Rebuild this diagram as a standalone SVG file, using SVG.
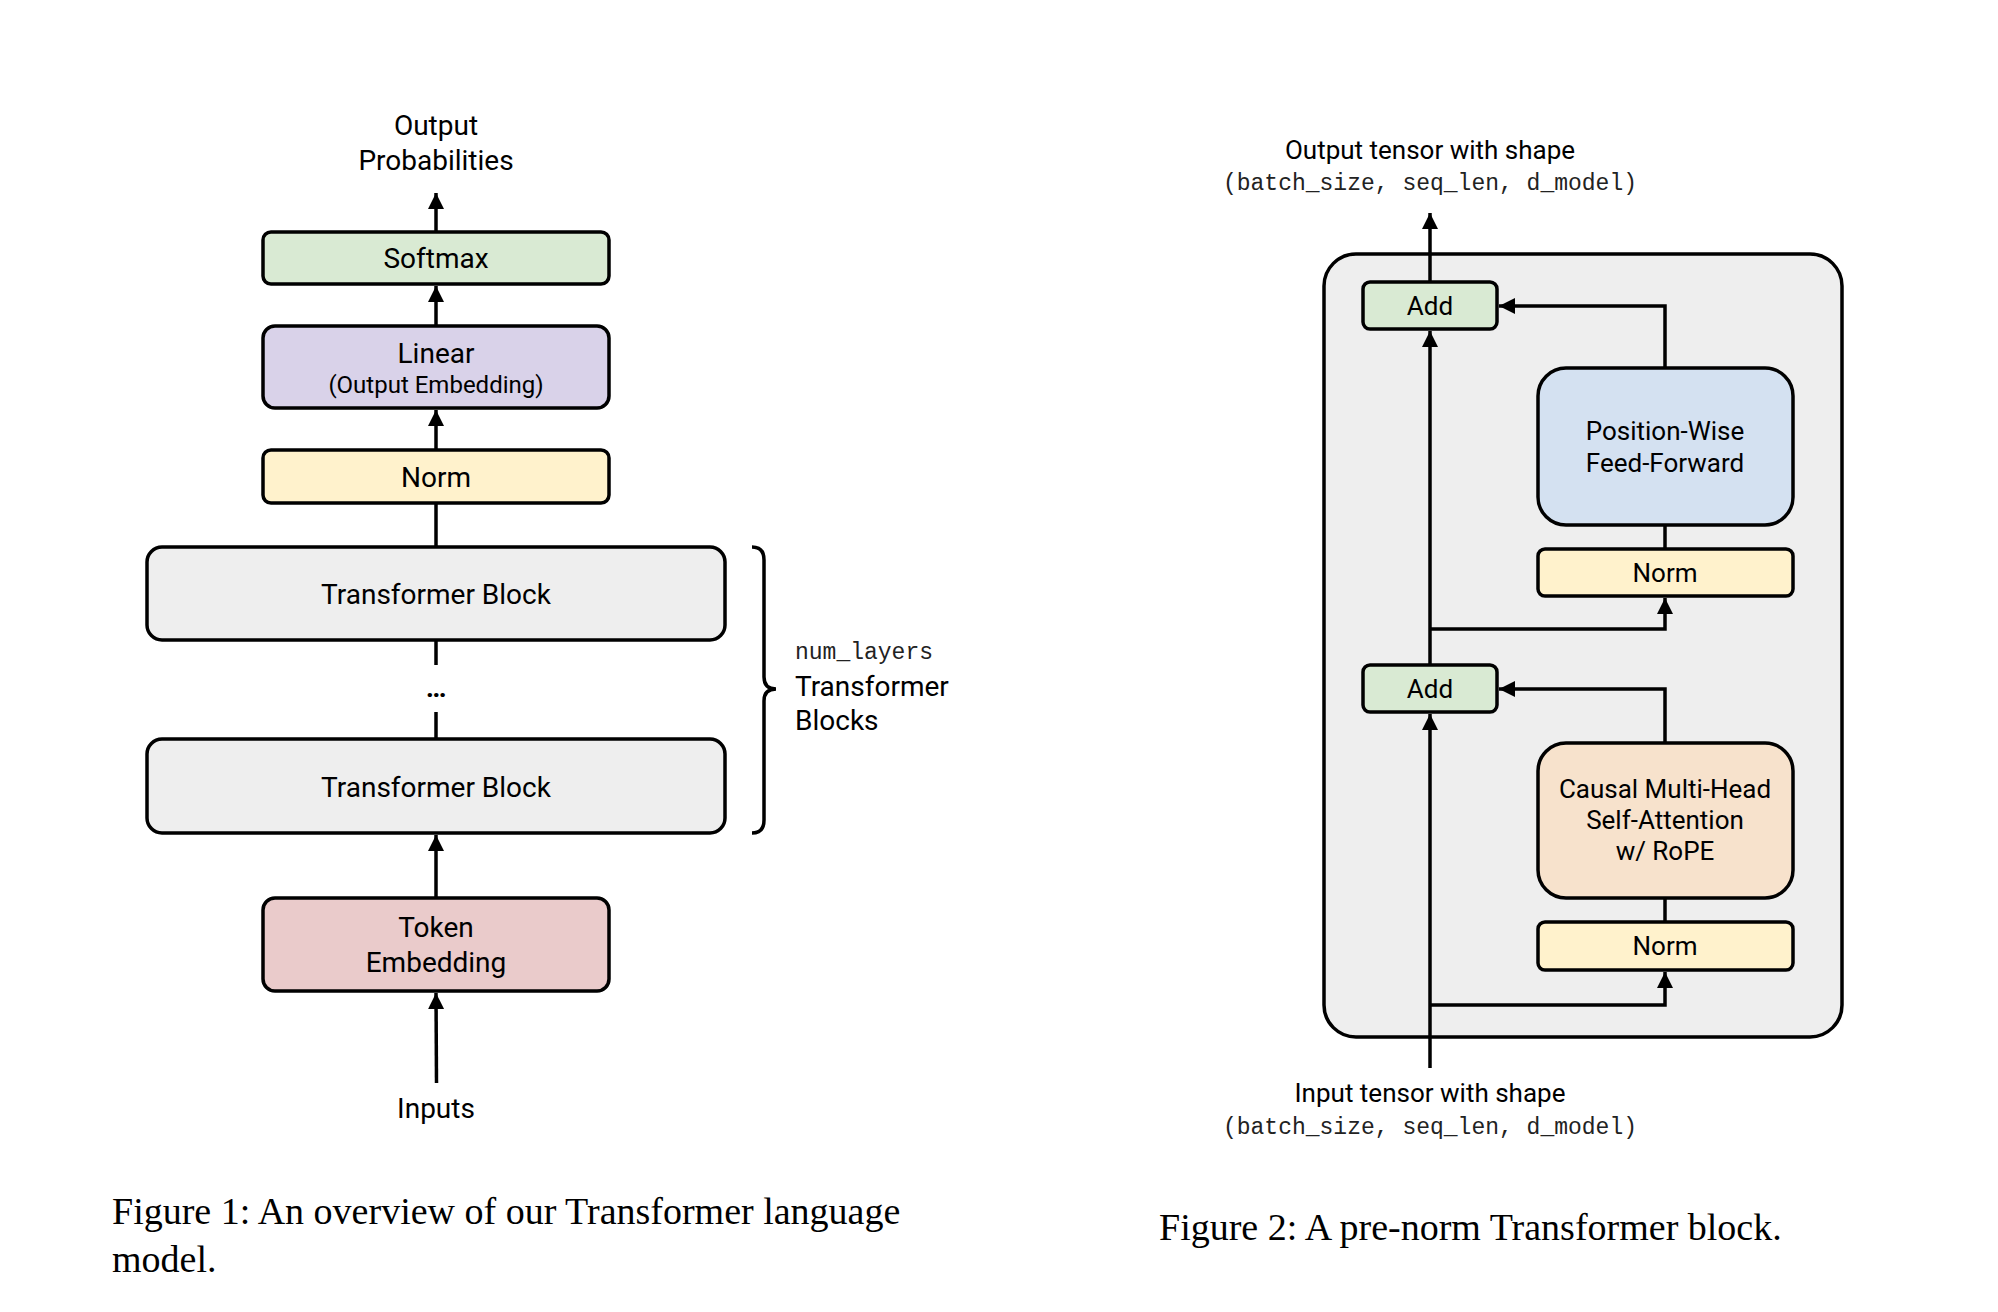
<svg xmlns="http://www.w3.org/2000/svg" width="1998" height="1312" viewBox="0 0 1998 1312">
<defs>
<marker id="ah" markerWidth="10" markerHeight="10" refX="9" refY="5" orient="auto" markerUnits="userSpaceOnUse"><path d="M0,0 L14,5 L0,10 z" transform="scale(0.7,1)" fill="#000"/></marker>
<marker id="a" viewBox="0 0 10 10" markerWidth="16" markerHeight="18" refX="10" refY="5" orient="auto" markerUnits="userSpaceOnUse"><path d="M0,0 L10,5 L0,10 z" fill="#000"/></marker>
</defs>
<style>
.b{stroke:#000;stroke-width:3.5}
.t{font-family:"Roboto","Liberation Sans",sans-serif;font-size:28px;text-anchor:middle;fill:#000}
.s{font-size:24px}
.m{font-family:"Liberation Mono",monospace;font-size:23px;fill:#222}
.c{font-family:"Liberation Serif",serif;font-size:38px;fill:#000}
.l{stroke:#000;stroke-width:3.5;fill:none}
</style>
<rect width="1998" height="1312" fill="#fff"/>
<g id="outer">
<rect x="1324" y="254" width="518" height="783" rx="32" fill="#eeeeee" class="b"/>
</g>
<g id="connectors">
<line x1="436" y1="232" x2="436" y2="193" class="l" marker-end="url(#a)"/>
<line x1="436" y1="326" x2="436" y2="286" class="l" marker-end="url(#a)"/>
<line x1="436" y1="450" x2="436" y2="410" class="l" marker-end="url(#a)"/>
<line x1="436" y1="547" x2="436" y2="503" class="l"/>
<line x1="436" y1="640" x2="436" y2="665" class="l"/>
<line x1="436" y1="712" x2="436" y2="739" class="l"/>
<line x1="436" y1="898" x2="436" y2="835" class="l" marker-end="url(#a)"/>
<line x1="436.5" y1="1083" x2="436" y2="993" class="l" marker-end="url(#a)"/>
<path d="M752,547 Q764,547 764,560 L764,677 Q764,689 776,689 Q764,689 764,701 L764,820 Q764,833 752,833" class="l" stroke-width="3"/>
<line x1="1430" y1="282" x2="1430" y2="213" class="l" marker-end="url(#a)"/>
<line x1="1430" y1="665" x2="1430" y2="331" class="l" marker-end="url(#a)"/>
<line x1="1430" y1="1068" x2="1430" y2="714" class="l" marker-end="url(#a)"/>
<path d="M1665,368 L1665,306 L1499,306" class="l" marker-end="url(#a)"/>
<path d="M1665,743 L1665,689 L1499,689" class="l" marker-end="url(#a)"/>
<line x1="1665" y1="525" x2="1665" y2="549" class="l"/>
<line x1="1665" y1="898" x2="1665" y2="922" class="l"/>
<path d="M1430,629 L1665,629 L1665,598" class="l" marker-end="url(#a)"/>
<path d="M1430,1005 L1665,1005 L1665,972" class="l" marker-end="url(#a)"/>
</g>
<g id="softmax"><rect x="263" y="232" width="346" height="52" rx="8" fill="#d9ead3" class="b"/><text x="436" y="268" class="t">Softmax</text></g>
<g id="linear"><rect x="263" y="326" width="346" height="82" rx="12" fill="#d9d2e9" class="b"/><text x="436" y="363" class="t">Linear</text><text x="436" y="393" class="t s">(Output Embedding)</text></g>
<g id="norm1"><rect x="263" y="450" width="346" height="53" rx="8" fill="#fff2cc" class="b"/><text x="436" y="487" class="t">Norm</text></g>
<g id="tb1"><rect x="147" y="547" width="578" height="93" rx="15" fill="#eeeeee" class="b"/><text x="436" y="604" class="t">Transformer Block</text></g>
<g id="dots"><text x="436" y="697" class="t" font-weight="bold">…</text></g>
<g id="tb2"><rect x="147" y="739" width="578" height="94" rx="15" fill="#eeeeee" class="b"/><text x="436" y="797" class="t">Transformer Block</text></g>
<g id="tok"><rect x="263" y="898" width="346" height="93" rx="12" fill="#eacbcb" class="b"/><text x="436" y="937" class="t">Token</text><text x="436" y="972" class="t">Embedding</text></g>
<g id="labels1">
<text x="436" y="135" class="t">Output</text>
<text x="436" y="170" class="t">Probabilities</text>
<text x="436" y="1118" class="t">Inputs</text>
<text x="795" y="659" class="m">num_layers</text>
<text x="795" y="696" class="t" text-anchor="start" style="text-anchor:start">Transformer</text>
<text x="795" y="730" class="t" style="text-anchor:start">Blocks</text>
<text x="112" y="1224" class="c">Figure 1:  An overview of our Transformer language</text>
<text x="112" y="1272" class="c">model.</text>
</g>
<g id="add2"><rect x="1363" y="282" width="134" height="47" rx="7" fill="#d9ead3" class="b"/><text x="1430" y="315" class="t s" style="font-size:26px">Add</text></g>
<g id="ffn"><rect x="1538" y="368" width="255" height="157" rx="28" fill="#d4e1f1" class="b"/><text x="1665" y="440" class="t s" style="font-size:26px">Position-Wise</text><text x="1665" y="472" class="t s" style="font-size:26px">Feed-Forward</text></g>
<g id="norm3"><rect x="1538" y="549" width="255" height="47" rx="7" fill="#fff2cc" class="b"/><text x="1665" y="582" class="t s" style="font-size:26px">Norm</text></g>
<g id="add1"><rect x="1363" y="665" width="134" height="47" rx="7" fill="#d9ead3" class="b"/><text x="1430" y="698" class="t s" style="font-size:26px">Add</text></g>
<g id="mha"><rect x="1538" y="743" width="255" height="155" rx="28" fill="#f7e2cc" class="b"/><text x="1665" y="798" class="t s" style="font-size:26px">Causal Multi-Head</text><text x="1665" y="829" class="t s" style="font-size:26px">Self-Attention</text><text x="1665" y="860" class="t s" style="font-size:26px">w/ RoPE</text></g>
<g id="norm2"><rect x="1538" y="922" width="255" height="48" rx="7" fill="#fff2cc" class="b"/><text x="1665" y="955" class="t s" style="font-size:26px">Norm</text></g>
<g id="labels2">
<text x="1430" y="159" class="t s" style="font-size:26px">Output tensor with shape</text>
<text x="1430" y="190" class="m" text-anchor="middle">(batch_size, seq_len, d_model)</text>
<text x="1430" y="1102" class="t s" style="font-size:26px">Input tensor with shape</text>
<text x="1430" y="1134" class="m" text-anchor="middle">(batch_size, seq_len, d_model)</text>
<text x="1159" y="1240" class="c">Figure 2:  A pre-norm Transformer block.</text>
</g>
</svg>
